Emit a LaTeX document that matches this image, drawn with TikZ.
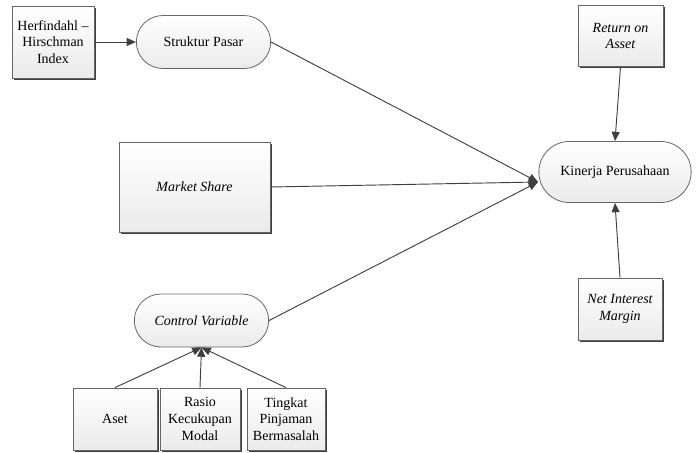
\documentclass[tikz,border=0pt]{standalone}
\usepackage{fontspec}
\setmainfont{Liberation Serif}
\usetikzlibrary{shapes.misc,shadows,arrows.meta}
\begin{document}
\begin{tikzpicture}[x=0.75pt,y=-0.75pt,
  font=\rmfamily\fontsize{10.5}{12.5}\selectfont,
  base/.style={draw=black!60, line width=0.6pt, top color=white, bottom color=black!8, align=center, inner sep=1pt},
  boxnode/.style={base, rectangle, drop shadow={shadow xshift=1.4pt, shadow yshift=-1.4pt, fill=black!75, opacity=1}},
  pill/.style={base, rounded rectangle},
  conn/.style={draw=black!75, line width=0.7pt},
  arr/.style={conn, -{Triangle[length=7pt,width=6pt]}}]
\useasboundingbox (0,0) rectangle (696,453);
\node[boxnode, minimum width=61.5pt, minimum height=54pt] (hhi) at (53,42) {Herfindahl –\\Hirschman\\Index};
\node[pill, minimum width=102.75pt, minimum height=39.75pt] (sp) at (203.5,42) {Struktur Pasar};
\node[boxnode, minimum width=63.75pt, minimum height=45.75pt] (roa) at (620.5,36) {\itshape Return on\\\itshape Asset};
\node[pill, minimum width=116.25pt, minimum height=45.75pt] (kin) at (615,172) {Kinerja Perusahaan};
\node[boxnode, minimum width=113.25pt, minimum height=67.5pt] (ms) at (194.5,187) {\itshape Market Share};
\node[pill, minimum width=102.75pt, minimum height=39.75pt] (cv) at (201.5,320.5) {\itshape Control Variable};
\node[boxnode, minimum width=63pt, minimum height=46.5pt] (aset) at (115,419) {Aset};
\node[boxnode, minimum width=60pt, minimum height=46.5pt] (rasio) at (200,419) {Rasio\\Kecukupan\\Modal};
\node[boxnode, minimum width=58.5pt, minimum height=46.5pt] (tpb) at (286,419) {Tingkat\\Pinjaman\\Bermasalah};
\node[boxnode, minimum width=63pt, minimum height=46.5pt] (nim) at (620,309) {\itshape Net Interest\\\itshape Margin};
\coordinate (kinin) at (538,182);
\draw[arr] (hhi.east) -- (sp.west);
\draw[arr] (sp.east) -- (kinin);
\draw[arr] (ms.east) -- (kinin);
\draw[arr] (cv.east) -- (kinin);
\draw[arr] (roa.south) -- (kin.north);
\draw[arr] (nim.north) -- (kin.south);
\draw[arr] (aset.north) -- (cv.south);
\draw[arr] (rasio.north) -- (cv.south);
\draw[arr] (tpb.north) -- (cv.south);
\end{tikzpicture}
\end{document}
